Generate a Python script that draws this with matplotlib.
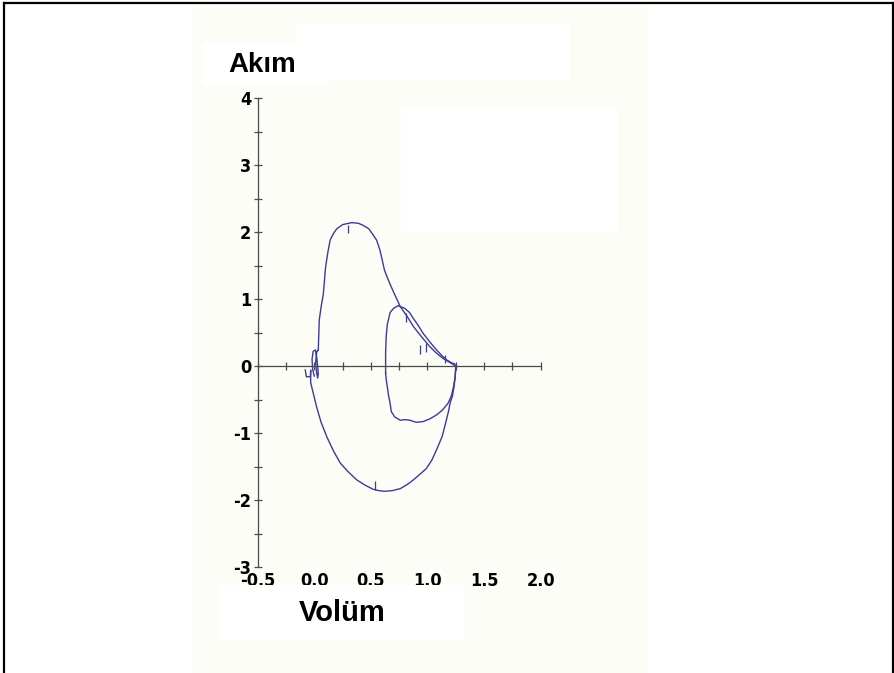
import matplotlib
matplotlib.use("Agg")
import matplotlib.pyplot as plt
from matplotlib.patches import Rectangle
from matplotlib.lines import Line2D

# ---------------- data ----------------
x_ticks = [-0.5, 0.0, 0.5, 1.0, 1.5, 2.0]
x_tick_labels = ["-0.5", "0.0", "0.5", "1.0", "1.5", "2.0"]
y_ticks = [-3, -2, -1, 0, 1, 2, 3, 4]
y_tick_labels = ["-3", "-2", "-1", "0", "1", "2", "3", "4"]

# small start loop near zero volume
start_vol = [0.00, -0.015, -0.02, -0.01, 0.01, 0.02, 0.03, 0.035, 0.03, 0.02, 0.012, 0.02, 0.035]
start_flow = [-0.15, -0.05, 0.10, 0.22, 0.24, 0.15, 0.00, -0.12, -0.18, -0.10, 0.05, 0.20, 0.24]

# main flow-volume loop (expiration above, inspiration below)
main_vol = [0.044, 0.06, 0.08, 0.10, 0.12, 0.14, 0.17, 0.20, 0.25, 0.33, 0.39, 0.43,
            0.48, 0.51, 0.55, 0.58, 0.60, 0.62, 0.65, 0.68, 0.72, 0.76, 0.82, 0.875,
            0.95, 1.02, 1.08, 1.14, 1.20, 1.25,
            1.245, 1.235, 1.22, 1.20, 1.185, 1.16, 1.13, 1.08, 1.04, 0.99, 0.93, 0.875,
            0.82, 0.76, 0.69, 0.62, 0.57, 0.52, 0.45, 0.375, 0.30, 0.23, 0.17, 0.11,
            0.06, 0.02, -0.01, -0.032, -0.032, -0.035, -0.07, -0.08]
main_flow = [0.69, 0.88, 1.08, 1.48, 1.70, 1.88, 1.98, 2.05, 2.11, 2.14, 2.13, 2.10,
             2.05, 1.98, 1.88, 1.73, 1.58, 1.43, 1.30, 1.18, 1.03, 0.885, 0.74, 0.59,
             0.43, 0.29, 0.19, 0.11, 0.05, 0.00,
             -0.16, -0.30, -0.45, -0.55, -0.68, -0.85, -1.05, -1.25, -1.40, -1.53, -1.62, -1.70,
             -1.77, -1.83, -1.86, -1.87, -1.86, -1.84, -1.78, -1.70, -1.58, -1.45, -1.27, -1.055,
             -0.84, -0.61, -0.40, -0.25, -0.06, -0.16, -0.16, -0.06]

# inner (second) loop
inner_vol = [0.63, 0.63, 0.635, 0.645, 0.67, 0.70, 0.74, 0.80, 0.84, 0.875, 0.92, 0.96,
             1.02, 1.08, 1.13, 1.17, 1.21, 1.24, 1.25, 1.245, 1.23, 1.21, 1.18, 1.13,
             1.08, 1.02, 0.96, 0.90, 0.845, 0.80, 0.76, 0.71, 0.68, 0.67, 0.655, 0.645,
             0.635, 0.63]
inner_flow = [-0.11, 0.20, 0.44, 0.62, 0.80, 0.86, 0.90, 0.86, 0.80, 0.71, 0.60, 0.49,
              0.36, 0.24, 0.15, 0.09, 0.05, 0.03, 0.00, -0.15, -0.31, -0.45, -0.56, -0.66,
              -0.73, -0.79, -0.83, -0.84, -0.81, -0.80, -0.81, -0.76, -0.68, -0.56, -0.43,
              -0.31, -0.20, -0.11]

# short timing marks on the traces
mark_vol = [0.30, 0.54, 0.81, 0.93, 0.99, 1.155]
mark_top = [2.10, -1.71, 0.79, 0.31, 0.35, 0.16]
mark_bot = [1.98, -1.85, 0.66, 0.18, 0.21, 0.04]

# ---------------- figure ----------------
W, H = 895, 673
fig = plt.figure(figsize=(W / 100, H / 100), dpi=100)
fig.patch.set_facecolor("white")

def fr(x0, y0, x1, y1, color, z):
    fig.add_artist(Rectangle((x0 / W, 1 - y1 / H), (x1 - x0) / W, (y1 - y0) / H,
                             transform=fig.transFigure, facecolor=color,
                             edgecolor="none", zorder=z))

offwhite = "#fdfdf7"
fr(193, 5, 647, 673, offwhite, -2)
fr(295, 23, 570, 80, "white", -1)
fr(203, 43, 330, 84, "white", -1)
fr(401, 108, 618, 233, "white", -1)

# axes mapping: x=0 -> 314.3 px, 113.2 px/unit ; y=0 -> 366 px, 67 px/unit
xl = (-0.55, 2.05)
yl = (-3.1, 4.1)
px_l = 314.3 + 113.2 * xl[0]
px_r = 314.3 + 113.2 * xl[1]
py_t = 366 - 67 * yl[1]
py_b = 366 - 67 * yl[0]
ax = fig.add_axes([px_l / W, 1 - py_b / H, (px_r - px_l) / W, (py_b - py_t) / H])
ax.patch.set_visible(False)
ax.set_xlim(*xl)
ax.set_ylim(*yl)

axis_col = "#4a4a4a"
for s in ["top", "right"]:
    ax.spines[s].set_visible(False)
ax.spines["left"].set_position(("data", -0.5))
ax.spines["left"].set_bounds(-3, 4)
ax.spines["bottom"].set_position(("data", 0))
ax.spines["bottom"].set_bounds(-0.5, 2.0)
for s in ["left", "bottom"]:
    ax.spines[s].set_color(axis_col)
    ax.spines[s].set_linewidth(0.9)

lab_font = dict(family=["DejaVu Sans"], stretch="condensed",
                weight="bold", size=13)

ax.set_yticks(y_ticks)
ax.set_yticklabels(y_tick_labels, fontdict=lab_font)
ax.set_yticks([v + 0.5 for v in y_ticks[:-1]], minor=True)
ax.set_xticks(x_ticks)
ax.set_xticks([v + 0.25 for v in x_ticks[:-1]], minor=True)
ax.set_xticklabels([])
ax.tick_params(axis="both", which="both", direction="inout", length=6,
               width=0.9, color=axis_col)
ax.tick_params(axis="y", which="major", pad=1.5)

for xv, lab in zip(x_ticks, x_tick_labels):
    ax.text(xv, -3.07, lab, ha="center", va="top", fontdict=lab_font, zorder=1)

line_col = "#3b3b9c"
lw = 1.0
ax.plot(start_vol, start_flow, color=line_col, lw=lw)
ax.plot(start_vol[-1:] + main_vol, start_flow[-1:] + main_flow, color=line_col, lw=lw)
ax.plot(inner_vol, inner_flow, color=line_col, lw=lw)
ax.vlines(mark_vol, mark_bot, mark_top, color=line_col, lw=0.9)

# Volüm label box, covering lower part of the tick labels
fr(220, 585, 465, 641, "white", 5)
fig.text(341.7 / W, 1 - 613 / H, "Volüm", ha="center", va="center",
         family=["Liberation Sans", "DejaVu Sans"], weight="bold", size=21, zorder=6)
fig.text(262 / W, 1 - 65 / H, "Akım", ha="center", va="center",
         family=["Liberation Sans", "DejaVu Sans"], weight="bold", size=20, zorder=6)

# frame lines
bc = "black"
fig.add_artist(Line2D([4 / W, 4 / W], [0, 1 - 3 / H], transform=fig.transFigure,
                      color=bc, lw=1.6, zorder=10))
fig.add_artist(Line2D([4 / W, 893 / W], [1 - 3 / H, 1 - 3 / H], transform=fig.transFigure,
                      color=bc, lw=1.6, zorder=10))
fig.add_artist(Line2D([893 / W, 893 / W], [0, 1 - 3 / H], transform=fig.transFigure,
                      color=bc, lw=1.6, zorder=10))

fig.savefig("out.png", dpi=100, facecolor="white")
